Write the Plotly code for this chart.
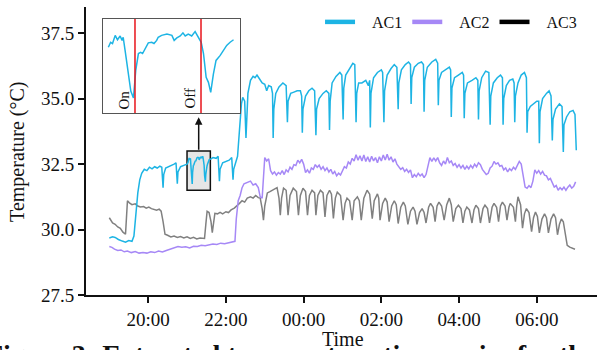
import plotly.graph_objects as go
import pandas as pd
from datetime import datetime

# ---------------- data ----------------
ac1_time = ["19:00","19:05","19:09","19:14","19:20","19:25","19:30","19:35","19:38","19:41","19:44","19:47","19:50","19:54","19:58",
 "20:02","20:06","20:10","20:14","20:18","20:21","20:23","20:24","20:27","20:32","20:36","20:40","20:43","20:45","20:46","20:50","20:55","21:00",
 "21:01:24","21:02:00","21:02:30","21:03:12","21:03:48","21:04:30","21:05:00","21:05:18","21:05:48","21:06:42","21:07:18","21:08:00","21:08:36",
 "21:09:18","21:09:54","21:10:24","21:11:00","21:11:54","21:12:48","21:13:24","21:14:06","21:14:30","21:15:24","21:16:48","21:18:06","21:18:42",
 "21:19:24","21:20:18","21:21:00","21:21:36","21:22:24","21:23:18","21:24:12","21:24:48","21:25:48","21:26:24","21:27:06","21:27:42","21:28:18",
 "21:29:00","21:29:42","21:30:48","21:31:42","21:32:30","21:33:24","21:34:18",
 "21:37","21:40","21:45","21:48","21:50","21:51","21:55","22:00","22:05","22:09","22:11","22:12","22:15","22:18","22:21","22:24","22:26","22:29",
 "22:31","22:32","22:34","22:38","22:42","22:45","22:48","22:52","22:56","23:00","23:03","23:06","23:10","23:12","23:13","23:14","23:17","23:22",
 "23:28","23:33","23:35","23:36","23:40","23:45","23:50","23:55","23:57","23:58","23:59",
 "00:03","00:08","00:13","00:17","00:19","00:20","00:24","00:30","00:35","00:39","00:40","00:41","00:44","00:50","00:56","00:59",
 "01:01","01:02","01:05","01:10","01:16","01:19","01:21","01:22","01:25","01:30","01:36","01:40","01:42","01:43","01:44","01:48","01:54",
 "02:00","02:02","02:04","02:05","02:09","02:15","02:20","02:24","02:26","02:27","02:31","02:37","02:42","02:45","02:46","02:47","02:51","02:57",
 "03:02","03:05","03:06","03:07","03:11","03:18","03:24","03:27","03:28","03:29","03:33","03:39","03:45","03:47","03:48","03:49","03:53","03:59",
 "04:05","04:07","04:08","04:09","04:13","04:20","04:26","04:29","04:30","04:31","04:35","04:41","04:46","04:48","04:49","04:53","04:59",
 "05:04","05:07","05:08","05:09","05:13","05:18","05:23","05:25","05:26","05:27","05:31","05:36","05:41","05:44","05:45","05:46","05:50","05:55",
 "06:00","06:03","06:04","06:05","06:09","06:15","06:19","06:22","06:24","06:25","06:29","06:35","06:39","06:41","06:42","06:46","06:51","06:56",
 "06:59","07:01"]
ac1_temp = [29.68,29.72,29.70,29.62,29.56,29.52,29.58,29.55,29.75,30.6,31.4,31.9,32.15,32.3,32.25,
 32.38,32.32,32.4,32.35,32.42,32.38,31.6,32.1,32.35,32.4,32.45,32.5,32.55,31.75,32.2,32.4,32.45,32.5,
 32.55,32.63,32.61,32.74,32.67,32.73,32.66,32.71,32.50,32.07,31.85,31.74,32.18,
 32.45,32.47,32.45,32.51,32.62,32.63,32.61,32.66,32.71,32.74,32.76,32.74,32.66,
 32.70,32.73,32.78,32.73,32.76,32.73,32.80,32.74,32.63,32.45,32.07,31.99,31.83,
 32.12,32.34,32.42,32.50,32.58,32.63,32.67,
 32.7,32.75,32.72,32.8,31.85,32.3,32.55,32.6,32.65,32.75,31.9,32.3,32.55,32.8,33.8,34.8,35.05,34.9,
 33.5,34.3,35.2,35.7,35.85,35.8,35.9,35.75,35.6,35.55,35.3,35.5,35.45,35.2,33.5,34.6,35.2,35.45,
 35.6,35.5,34.1,34.9,35.2,35.25,35.3,35.3,35.1,33.7,34.6,
 35.1,35.3,35.4,35.3,33.6,34.6,35.0,35.2,35.3,35.2,33.8,34.9,35.6,35.85,36.0,35.9,
 34.2,35.4,35.9,36.1,36.35,36.3,34.1,35.2,35.6,35.6,35.7,35.5,35.7,33.9,35.2,35.8,36.0,
 36.1,36.0,34.1,35.3,35.9,36.15,36.3,36.2,34.6,35.6,36.1,36.3,36.4,36.3,34.8,35.8,36.2,36.35,
 36.4,36.3,34.5,35.7,36.2,36.4,36.5,36.35,34.75,35.7,36.0,36.1,36.2,36.1,34.3,35.4,35.8,35.9,
 36.0,35.9,34.25,35.2,35.6,35.7,35.8,35.7,34.2,35.3,35.8,36.05,36.0,34.0,35.1,35.6,35.8,
 35.9,35.8,34.0,35.0,35.5,35.7,35.75,35.6,34.1,35.1,35.6,35.9,36.0,35.8,33.7,34.5,34.7,34.8,
 34.9,34.9,33.3,34.5,35.0,35.2,35.3,35.1,33.4,34.2,34.6,34.8,34.7,32.96,34.0,34.3,34.5,34.55,
 34.4,33.03]

# AC2, evening part (irregular sampling)
ac2_time_eve = ["19:00","19:04","19:08","19:13","19:18","19:23","19:28","19:34","19:40","19:46","19:52","19:58","20:04","20:10","20:16",
 "20:22","20:28","20:34","20:40","20:46","20:52","20:58","21:04","21:10","21:16","21:22","21:28","21:34","21:40","21:46","21:52","21:58",
 "22:04","22:10","22:14","22:16","22:19","22:22","22:25","22:28","22:33","22:38","22:42","22:46","22:50","22:53","22:56","22:58"]
ac2_temp_eve = [29.35,29.32,29.25,29.2,29.22,29.15,29.18,29.12,29.16,29.1,29.12,29.1,29.15,29.12,29.18,
 29.14,29.2,29.25,29.3,29.35,29.32,29.34,29.3,29.36,29.35,29.4,29.38,29.42,29.45,29.43,29.48,29.46,
 29.5,29.52,29.55,30.4,31.1,31.3,31.6,31.75,31.8,31.85,31.7,31.75,31.6,31.25,31.2,32.0]
# AC2, night part: one reading every 3 minutes from 23:00 to 07:00
ac2_night_start, ac2_night_step_min = "23:00", 3
ac2_temp_night = [
 32.75,32.62,32.7,32.25,32.12,32.2,32.08,32.18,32.12,32.25,32.1,32.28,32.2,32.38,32.3,32.48,32.45,32.65,32.55,32.68,
 32.5,32.18,32.28,32.15,32.35,32.3,32.48,32.38,32.46,32.3,32.4,32.25,32.35,32.2,32.3,32.12,32.22,32.05,32.15,32.08,
 32.25,32.4,32.35,32.58,32.5,32.72,32.62,32.86,32.65,32.82,32.62,32.85,32.6,32.78,32.58,32.8,32.62,32.75,32.55,32.78,
 32.62,32.85,32.66,32.88,32.65,32.78,32.58,32.7,32.5,32.42,32.3,32.36,32.22,32.3,32.18,32.28,31.98,32.1,32.02,32.15,
 32.05,32.12,31.98,32.1,32.45,32.75,32.6,32.74,32.62,32.75,32.55,32.45,32.62,32.5,32.75,32.55,32.62,32.45,32.52,32.38,
 32.48,32.35,32.45,32.3,32.42,32.32,32.45,32.35,32.5,32.4,32.55,32.48,32.3,32.22,32.1,32.15,32.35,32.42,32.6,32.5,
 32.55,32.42,32.45,32.28,32.35,32.2,32.32,32.25,32.38,32.3,32.45,32.6,32.5,32.1,31.62,31.58,31.68,31.6,31.85,32.28,
 32.15,32.25,32.12,32.22,32.08,32.05,31.9,31.95,31.78,31.62,31.68,31.5,31.6,31.52,31.62,31.5,31.62,31.7,31.58,31.65,
 31.82]

ac3_time = ["19:00","19:05","19:09","19:13","19:17","19:21","19:25","19:27","19:28","19:31","19:35","19:40","19:44","19:48","19:53","19:57",
 "20:01","20:05","20:09","20:13","20:17","20:20","20:23","20:26","20:30","20:35","20:40","20:45","20:50","20:55","21:00","21:05","21:10",
 "21:15","21:20","21:27","21:29","21:31","21:34","21:37","21:39","21:41","21:43","21:47","21:51","21:55","22:00","22:04","22:08","22:13",
 "22:17","22:21","22:25","22:29","22:33","22:38","22:42","22:46","22:50","22:53","22:56","22:58","23:00","23:04","23:08","23:12","23:16",
 "23:19","23:22","23:24","23:26","23:29","23:33","23:36","23:39","23:44","23:49","23:52","23:55","23:59","00:03","00:06","00:09","00:13",
 "00:17","00:19","00:22","00:26","00:30","00:33","00:36","00:40","00:43","00:46","00:49","00:52","00:57","01:01","01:04","01:07","01:11",
 "01:15","01:18","01:23","01:26","01:29","01:33","01:38","01:42","01:46","01:49","01:54","01:56","01:58","02:02","02:06","02:09","02:12",
 "02:16","02:20","02:23","02:26","02:30","02:34","02:37","02:41","02:45","02:49","02:52","02:55","02:59","03:03","03:06","03:09","03:13",
 "03:16","03:20","03:23","03:26","03:29","03:33","03:37","03:41","03:45","03:48","03:51","03:55","03:59","04:03","04:06","04:09","04:12",
 "04:16","04:20","04:23","04:26","04:30","04:33","04:37","04:40","04:44","04:47","04:51","04:54","04:58","05:01","05:04","05:07","05:11",
 "05:14","05:17","05:19","05:24","05:27","05:29","05:31","05:35","05:38","05:41","05:44","05:48","05:52","05:55","05:58","06:01","06:04",
 "06:08","06:12","06:15","06:18","06:22","06:26","06:29","06:32","06:35","06:38","06:41","06:44","06:47","06:51","06:55","06:59"]
ac3_temp = [30.45,30.25,30.2,30.1,30.05,29.9,29.82,30.6,31.1,31.02,30.95,30.98,30.9,30.86,30.88,30.82,
 30.86,30.8,30.78,30.74,30.78,30.7,30.3,29.82,29.78,29.72,29.75,29.7,29.73,29.68,29.72,29.66,29.7,
 29.64,29.68,29.66,30.2,30.7,30.65,30.3,29.88,30.4,30.62,30.6,30.66,30.6,30.68,30.65,30.75,30.82,
 30.9,31.0,31.1,31.05,31.2,31.25,31.2,31.3,31.22,31.2,30.8,30.36,30.9,31.4,31.45,31.5,31.55,
 31.6,31.2,30.55,31.2,31.58,31.5,30.55,31.3,31.58,31.45,30.55,31.3,31.58,31.45,30.55,31.3,31.5,
 31.4,30.55,31.3,31.5,31.4,30.48,31.3,31.5,31.35,30.42,31.2,31.43,31.3,30.36,31.0,31.2,31.1,
 30.36,31.1,31.25,31.1,30.36,31.2,31.5,31.35,30.42,31.1,31.36,31.2,30.36,31.0,31.2,31.05,30.3,
 30.9,31.1,30.95,30.23,30.85,31.05,30.9,30.2,30.7,30.86,30.7,30.2,30.65,30.8,30.65,30.25,30.85,
 31.0,30.85,30.3,30.9,31.05,30.9,30.36,30.95,31.2,30.95,30.3,30.8,30.93,30.8,30.25,30.7,30.86,
 30.75,30.25,30.75,30.93,30.8,30.25,30.8,30.93,30.8,30.25,30.85,31.0,30.85,30.3,30.9,31.05,30.9,
 30.36,30.85,31.0,30.85,30.3,30.9,31.25,30.95,30.05,30.6,30.8,30.65,29.92,30.45,30.67,30.5,29.87,
 30.4,30.6,30.45,29.87,30.4,30.6,30.45,29.8,30.2,30.4,30.3,29.9,29.4,29.33,29.3,29.25]

series_names = ["AC1", "AC2", "AC3"]
y_ticks = [27.5, 30.0, 32.5, 35.0, 37.5]
x_ticks = ["20:00", "22:00", "00:00", "02:00", "04:00", "06:00"]
x_range = ["18:24", "07:33"]
zoom_window = ["21:00", "21:36"]      # highlighted box / inset x range
zoom_temp = [31.5, 33.0]              # highlighted box / inset y range
inset_span = ["21:01:00", "21:35:00"]
switch_times = ["21:08:24", "21:25:45"]
switch_labels = ["On", "Off"]
caption = "Figure 3: Extracted temperature time series for the"

# ---------------- helpers ----------------
def to_dt(s):
    p = [int(v) for v in s.split(":")]
    h, m = p[0], p[1]
    sec = p[2] if len(p) > 2 else 0
    day = 1 if h >= 12 else 2
    return datetime(2024, 1, day, h, m, sec)

c1, c2, c3 = "#1DB4E4", "#A688F6", "#808080"
INK = "#111111"
FONT = "Liberation Serif"
NB = "\u00a0\u00a0\u00a0"

t1 = [to_dt(s) for s in ac1_time]
t2 = [to_dt(s) for s in ac2_time_eve] + list(
    pd.date_range(to_dt(ac2_night_start), periods=len(ac2_temp_night), freq=f"{ac2_night_step_min}min").to_pydatetime())
y2 = ac2_temp_eve + ac2_temp_night
t3 = [to_dt(s) for s in ac3_time]
z0, z1 = to_dt(zoom_window[0]), to_dt(zoom_window[1])
i0, i1 = to_dt(inset_span[0]), to_dt(inset_span[1])
inset_idx = [i for i, t in enumerate(t1) if i0 <= t <= i1]

fig = go.Figure()
fig.add_trace(go.Scatter(x=t3, y=ac3_temp, mode="lines", line=dict(color=c3, width=1.5), showlegend=False))
fig.add_trace(go.Scatter(x=t2, y=y2, mode="lines", line=dict(color=c2, width=1.5), showlegend=False))
fig.add_trace(go.Scatter(x=t1, y=ac1_temp, mode="lines", line=dict(color=c1, width=1.5), showlegend=False))

# inset (zoom of AC1)
fig.add_trace(go.Scatter(x=[t1[i] for i in inset_idx], y=[ac1_temp[i] for i in inset_idx], mode="lines",
                         line=dict(color=c1, width=1.5), showlegend=False, xaxis="x2", yaxis="y2"))

# legend entries
for name, col in zip(series_names, [c1, c2, "#000000"]):
    fig.add_trace(go.Scatter(x=[None], y=[None], mode="lines", line=dict(color=col, width=4.5), name=NB + name))

shapes = [
    dict(type="rect", xref="x", yref="y", x0=z0, x1=z1, y0=zoom_temp[0], y1=zoom_temp[1],
         fillcolor="#E6E6E6", line=dict(color=INK, width=1.5), layer="below"),
]
for st in switch_times:
    shapes.append(dict(type="line", xref="x2", yref="y2 domain", x0=to_dt(st), x1=to_dt(st), y0=0, y1=1,
                       line=dict(color="#E8141B", width=1.5)))

annotations = [
    dict(x=to_dt("21:18"), y=34.29, xref="x", yref="y", ax=0, ay=34, showarrow=True, arrowhead=2,
         arrowsize=1, arrowwidth=1.5, arrowcolor=INK, text=""),
    dict(x=0.503, y=-0.153, xref="paper", yref="paper", text="Time", showarrow=False,
         font=dict(family=FONT, size=20, color=INK), xanchor="center", yanchor="middle"),
    dict(x=-0.133, y=0.497, xref="paper", yref="paper", text="Temperature (°C)", showarrow=False, textangle=-90,
         font=dict(family=FONT, size=20, color=INK), xanchor="center", yanchor="middle"),
    dict(x=-0.2, y=-0.145, xref="paper", yref="paper", text="<b>" + caption + "</b>", showarrow=False,
         font=dict(family=FONT, size=28, color=INK), xanchor="left", yanchor="top"),
]
for st, lab in zip(switch_times, switch_labels):
    annotations.append(dict(x=to_dt(st), y=0.02, xref="x2", yref="y2 domain", text=lab, textangle=-90,
                            showarrow=False, xanchor="right", yanchor="bottom", xshift=-1,
                            font=dict(family=FONT, size=15, color=INK)))

axis_common = dict(ticks="outside", ticklen=6, tickwidth=2, tickcolor=INK, showline=True, linewidth=2,
                   linecolor=INK, showgrid=False, zeroline=False, automargin=False,
                   tickfont=dict(family=FONT, size=19, color=INK))

fig.update_layout(
    width=597, height=350,
    margin=dict(l=86, r=0, t=7, b=55, autoexpand=False),
    paper_bgcolor="white", plot_bgcolor="white",
    font=dict(family=FONT, size=16, color=INK),
    shapes=shapes, annotations=annotations,
    legend=dict(orientation="h", x=0.458, y=1.007, xanchor="left", yanchor="top",
                font=dict(family=FONT, size=16, color=INK), bgcolor="rgba(0,0,0,0)", itemwidth=30),
    xaxis=dict(type="date", range=[to_dt(x_range[0]), to_dt(x_range[1])],
               tickvals=[to_dt(s) for s in x_ticks], ticktext=x_ticks, **axis_common),
    yaxis=dict(range=[27.5, 38.5], tickvals=y_ticks, ticktext=[f"{v:.1f}" for v in y_ticks], **axis_common),
    xaxis2=dict(type="date", domain=[0.0333, 0.3014], anchor="y2", range=[z0, z1],
                showticklabels=False, ticks="", showgrid=False, zeroline=False,
                showline=True, mirror=True, linecolor="#555555", linewidth=1.2),
    yaxis2=dict(domain=[0.632, 0.958], anchor="x2", range=zoom_temp,
                showticklabels=False, ticks="", showgrid=False, zeroline=False,
                showline=True, mirror=True, linecolor="#555555", linewidth=1.2),
)

fig.write_html("out.html", config={"displayModeBar": False},
               post_script="document.body.style.margin='0px';document.body.style.padding='0px';")
